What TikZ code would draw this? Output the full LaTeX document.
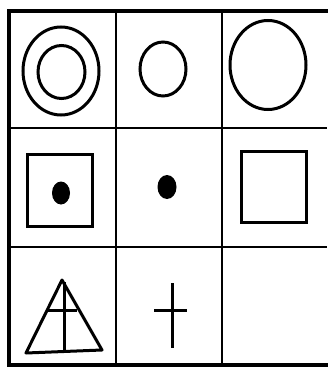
\documentclass[tikz,border=0pt]{standalone}
\begin{document}
\begin{tikzpicture}[x=1pt,y=-1pt,
  frame/.style={line width=4pt},
  gridline/.style={line width=1.8pt},
  figline/.style={line width=3pt},
  blob/.style={fill=black}]
\useasboundingbox (0,0) rectangle (327,371);
\fill[white] (0,0) rectangle (327,371);
% grid coordinates
\coordinate (tl) at (9,11);
\coordinate (bl) at (9,365);
\coordinate (tr) at (327,11);
\coordinate (br) at (327,365);
% outer frame (right side is cut off)
\draw[frame,line cap=rect] (tr) -- (tl) -- (bl) -- (br);
% inner lines
\coordinate (v1t) at (116,11); \coordinate (v1b) at (116,365);
\coordinate (v2t) at (222,11); \coordinate (v2b) at (222,365);
\coordinate (h1l) at (9,128); \coordinate (h1r) at (327,128);
\coordinate (h2l) at (9,247); \coordinate (h2r) at (327,247);
\draw[gridline] (v1t) -- (v1b);
\draw[gridline] (v2t) -- (v2b);
\draw[gridline] (h1l) -- (h1r);
\draw[gridline] (h2l) -- (h2r);
% row 1
\draw[figline] (61,71) ellipse [x radius=38, y radius=44];
\draw[figline] (61.5,72) ellipse [x radius=23.5, y radius=26.5];
\draw[figline] (163,69) ellipse [x radius=23, y radius=27];
\draw[figline] (268,65) ellipse [x radius=38, y radius=44.5];
% row 2
\draw[figline] (27,155) rectangle (92,226);
\fill[blob] (61,193) ellipse [x radius=9, y radius=11.5];
\fill[blob] (167,187) ellipse [x radius=9.5, y radius=12];
\draw[figline] (241,152) rectangle (306,222);
% row 3
\coordinate (apex) at (62,280);
\coordinate (bl3) at (26,353);
\coordinate (br3) at (102,350);
\draw[figline,line join=round] (apex) -- (bl3) -- (br3) -- cycle;
\draw[figline] (64,282) -- (64,351);
\draw[figline] (47,310) -- (77,310);
\draw[figline] (172,283) -- (172,348);
\draw[figline] (154,310) -- (187,310);
\end{tikzpicture}
\end{document}
